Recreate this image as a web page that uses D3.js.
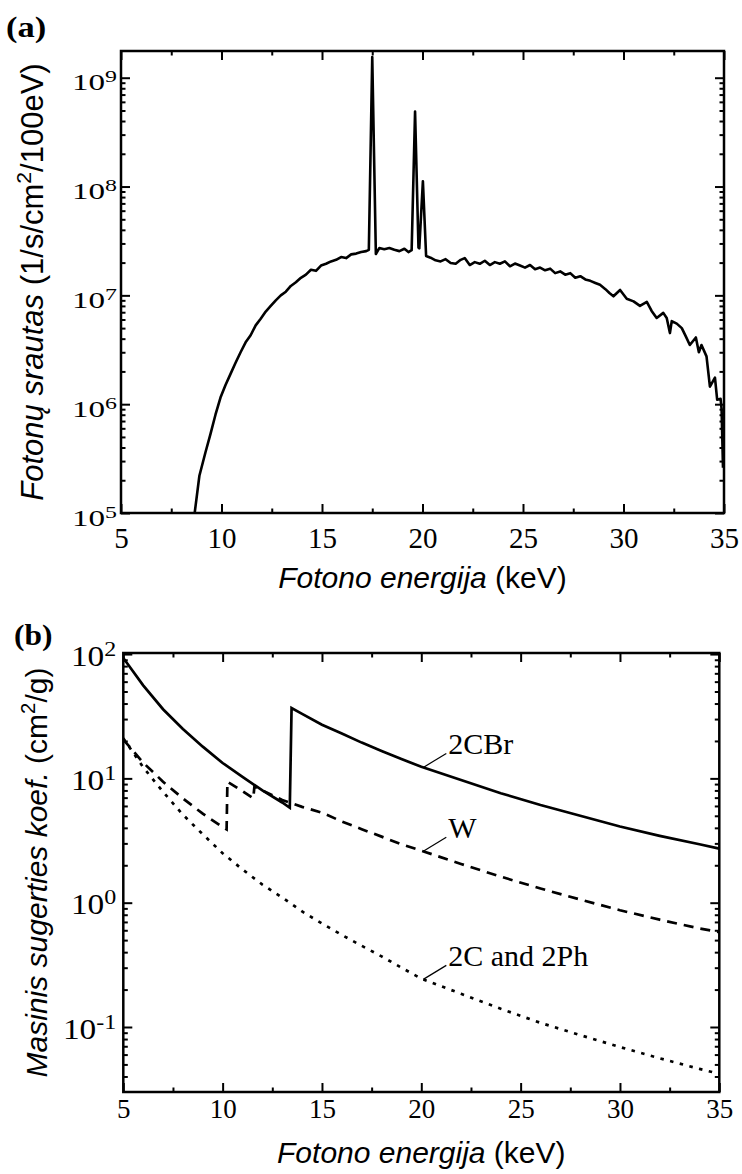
<!DOCTYPE html>
<html>
<head>
<meta charset="utf-8">
<script src="https://cdn.jsdelivr.net/npm/d3@7"></script>
<style>
  body { margin: 0; background: #fff; }
  svg { display: block; }
  .serif { font-family: 'Liberation Serif', 'Times New Roman', serif; }
  .sans { font-family: 'Liberation Sans', Arial, sans-serif; }
</style>
</head>
<body>
<div class="chart"></div>
<script>
// ---- data ----
// (a) photon spectrum: [energy keV, flux 1/s/cm2/100eV]
const spectrum = [
  [8.65, 9.5e4], [8.9, 2.2e5], [9.2, 3.6e5], [9.45, 5.3e5], [9.7, 8.0e5], [9.95, 1.15e6],
  [10.2, 1.5e6], [10.45, 1.9e6], [10.7, 2.4e6], [10.95, 3.0e6], [11.2, 3.7e6], [11.45, 4.3e6],
  [11.7, 5.3e6], [11.95, 6.1e6], [12.2, 7.1e6], [12.45, 8.0e6], [12.7, 9.0e6], [12.95, 1.0e7],
  [13.2, 1.08e7], [13.45, 1.22e7], [13.7, 1.32e7], [13.95, 1.45e7], [14.2, 1.55e7], [14.45, 1.72e7],
  [14.7, 1.68e7], [14.95, 1.88e7], [15.2, 1.95e7], [15.45, 2.05e7], [15.7, 2.12e7], [15.95, 2.25e7],
  [16.2, 2.2e7], [16.45, 2.38e7], [16.7, 2.42e7], [16.95, 2.5e7], [17.2, 2.55e7], [17.33, 2.62e7],
  [17.5, 1.55e9], [17.68, 2.4e7], [17.85, 2.72e7], [18.1, 2.65e7], [18.35, 2.72e7], [18.6, 2.62e7],
  [18.85, 2.55e7], [19.1, 2.68e7], [19.3, 2.5e7], [19.46, 2.6e7], [19.63, 4.9e8], [19.8, 2.75e7],
  [19.84, 2.7e7], [20.02, 1.12e8], [20.18, 2.3e7], [20.4, 2.22e7], [20.65, 2.1e7], [20.9, 2.05e7],
  [21.15, 2.15e7], [21.4, 1.98e7], [21.65, 1.95e7], [21.9, 2.12e7], [22.1, 2.2e7], [22.35, 1.9e7],
  [22.6, 2.02e7], [22.85, 1.95e7], [23.1, 2.08e7], [23.35, 1.9e7], [23.6, 2.02e7], [23.85, 1.95e7],
  [24.1, 2.05e7], [24.35, 1.85e7], [24.6, 1.96e7], [24.85, 1.88e7], [25.1, 1.8e7], [25.35, 1.9e7],
  [25.6, 1.74e7], [25.85, 1.8e7], [26.1, 1.7e7], [26.35, 1.76e7], [26.6, 1.6e7], [26.85, 1.66e7],
  [27.1, 1.55e7], [27.35, 1.6e7], [27.6, 1.45e7], [27.85, 1.5e7], [28.1, 1.4e7], [28.35, 1.36e7],
  [28.6, 1.3e7], [28.83, 1.25e7], [29.1, 1.14e7], [29.3, 1.05e7], [29.5, 9.8e6], [29.83, 1.12e7],
  [30.16, 9.3e6], [30.5, 8.8e6], [30.82, 8.0e6], [31.16, 8.7e6], [31.4, 7.2e6], [31.65, 6.2e6],
  [31.98, 6.9e6], [32.15, 6.2e6], [32.31, 4.5e6], [32.4, 5.8e6], [32.65, 5.5e6], [32.9, 5.0e6],
  [33.1, 4.2e6], [33.3, 3.5e6], [33.6, 4.1e6], [33.75, 3.0e6], [33.88, 3.5e6], [34.13, 2.75e6],
  [34.3, 1.45e6], [34.55, 1.75e6], [34.66, 1.1e6], [34.83, 1.12e6], [34.88, 9.0e5], [34.95, 2.6e5]
];

// (b) mass attenuation coefficients: [energy keV, cm2/g]
const cbr = [
  [5, 93], [6, 56], [7, 36], [8, 25], [9, 18], [10, 13.3], [11, 10.3], [12, 8.0], [13, 6.4],
  [13.38, 5.8], [13.47, 36.8], [14, 33], [15, 27], [16, 23], [17, 19.4], [18, 16.6], [19, 14.3],
  [20, 12.4], [22, 9.7], [24, 7.6], [26, 6.1], [28, 5.0], [30, 4.1], [32, 3.45], [34, 2.95], [35, 2.72]
];
const tungsten = [
  [5, 20.5], [6, 13.4], [7, 9.4], [8, 6.9], [9, 5.2], [10, 4.05], [10.2, 3.88], [10.24, 9.4],
  [11, 7.9], [11.54, 6.9], [11.6, 8.6], [12, 8.0], [13, 6.7], [14, 5.9], [15, 5.3], [16, 4.5],
  [17, 3.9], [18, 3.4], [19, 2.95], [20, 2.62], [22, 2.05], [24, 1.62], [26, 1.3], [28, 1.06],
  [30, 0.87], [32, 0.73], [34, 0.62], [35, 0.58]
];
const carbonPh = [
  [5, 21], [6, 12.3], [7, 7.8], [8, 5.1], [9, 3.55], [10, 2.5], [11, 1.85], [12, 1.4], [13, 1.1],
  [14, 0.85], [15, 0.68], [16, 0.55], [17, 0.45], [18, 0.37], [19, 0.3], [20, 0.245], [22, 0.185],
  [24, 0.14], [26, 0.108], [28, 0.086], [30, 0.069], [32, 0.056], [34, 0.046], [35, 0.042]
];

const xMajor = [5, 10, 15, 20, 25, 30, 35];
const xMinor = [7.5, 12.5, 17.5, 22.5, 27.5, 32.5];
const expA = [5, 6, 7, 8, 9];
const expB = [-1, 0, 1, 2];
const curveLabels = ['2CBr', 'W', '2C and 2Ph'];

// ---- layout ----
const w = 742, h = 1174;
const pa = { left: 121, right: 724, top: 51, bottom: 513 };
const pb = { left: 123.3, right: 719.3, top: 653, bottom: 1092 };

const svg = d3.select('.chart').append('svg').attr('width', w).attr('height', h);

const xA = d3.scaleLinear().domain([5, 35]).range([pa.left, pa.right]);
const yA = d3.scaleLog().domain([1e5, 1.76e9]).range([pa.bottom, pa.top]);
const xB = d3.scaleLinear().domain([5, 35]).range([pb.left, pb.right]);
const yB = d3.scaleLog().domain([0.030, 102]).range([pb.bottom, pb.top]);

function logMinor(scale) {
  const [lo, hi] = scale.domain();
  const out = [];
  for (let e = Math.floor(Math.log10(lo)); e <= Math.ceil(Math.log10(hi)); e++) {
    for (let k = 2; k <= 9; k++) {
      const v = k * Math.pow(10, e);
      if (v > lo && v < hi) out.push(v);
    }
  }
  return out;
}

function drawAxes(p, x, y, exps, o) {
  const g = svg.append('g');
  const majorY = exps.map(e => Math.pow(10, e));
  const minorY = logMinor(y);

  const bottom = g.append('g').attr('transform', `translate(0,${p.bottom})`)
    .call(d3.axisBottom(x).tickValues(xMajor).tickSize(-9).tickPadding(o.xPad).tickFormat(d3.format('d')));
  bottom.selectAll('text').attr('class', 'serif').style('font-size', o.xFont + 'px');
  g.append('g').attr('transform', `translate(0,${p.bottom})`)
    .call(d3.axisBottom(x).tickValues(xMinor).tickSize(-4.5).tickFormat(''));
  g.append('g').attr('transform', `translate(0,${p.top})`)
    .call(d3.axisTop(x).tickValues(xMajor).tickSize(-9).tickFormat(''));
  g.append('g').attr('transform', `translate(0,${p.top})`)
    .call(d3.axisTop(x).tickValues(xMinor).tickSize(-4.5).tickFormat(''));

  g.append('g').attr('transform', `translate(${p.left},0)`)
    .call(d3.axisLeft(y).tickValues(majorY).tickSize(-9).tickFormat(''));
  g.append('g').attr('transform', `translate(${p.left},0)`)
    .call(d3.axisLeft(y).tickValues(minorY).tickSize(-4.5).tickFormat(''));
  g.append('g').attr('transform', `translate(${p.right},0)`)
    .call(d3.axisRight(y).tickValues(majorY).tickSize(-9).tickFormat(''));
  g.append('g').attr('transform', `translate(${p.right},0)`)
    .call(d3.axisRight(y).tickValues(minorY).tickSize(-4.5).tickFormat(''));

  g.selectAll('.domain').remove();
  g.selectAll('.tick line').attr('stroke', '#000').attr('stroke-width', 2);

  // y tick labels 10^n
  exps.forEach(e => {
    const t = g.append('text').attr('class', 'serif')
      .attr('text-anchor', 'end')
      .attr('transform', `translate(${p.left - o.yGap},${y(Math.pow(10, e)) + o.yBase}) scale(${o.ySx},1)`)
      .style('font-size', o.yFont + 'px');
    t.append('tspan').text('10');
    t.append('tspan').attr('dy', -o.supUp).style('font-size', (o.yFont * 0.72) + 'px').text(e);
  });

  g.append('rect')
    .attr('x', p.left).attr('y', p.top)
    .attr('width', p.right - p.left).attr('height', p.bottom - p.top)
    .attr('fill', 'none').attr('stroke', '#000').attr('stroke-width', 2.5);
  return g;
}

function clip(id, p) {
  svg.append('clipPath').attr('id', id).append('rect')
    .attr('x', p.left).attr('y', p.top).attr('width', p.right - p.left).attr('height', p.bottom - p.top);
}
clip('clipA', pa);
clip('clipB', pb);

// ---- panel (a) ----
const lineA = d3.line().x(d => xA(d[0])).y(d => yA(d[1]));
svg.append('path').datum(spectrum)
  .attr('clip-path', 'url(#clipA)')
  .attr('d', lineA)
  .attr('fill', 'none').attr('stroke', '#000').attr('stroke-width', 2.6).attr('stroke-linejoin', 'round');

drawAxes(pa, xA, yA, expA, { xPad: 14, xFont: 29, yFont: 24, ySx: 1.38, yGap: 4, yBase: 12.5, supUp: 8 });

// ---- panel (b) ----
const lineB = d3.line().x(d => xB(d[0])).y(d => yB(d[1]));
const seriesB = [
  { data: cbr, dash: null },
  { data: tungsten, dash: '10,7' },
  { data: carbonPh, dash: '3.5,6.5' }
];
seriesB.forEach(s => {
  svg.append('path').datum(s.data)
    .attr('clip-path', 'url(#clipB)')
    .attr('d', lineB)
    .attr('fill', 'none').attr('stroke', '#000').attr('stroke-width', 2.7)
    .attr('stroke-dasharray', s.dash);
});

drawAxes(pb, xB, yB, expB, { xPad: 7, xFont: 27, yFont: 29, ySx: 1.15, yGap: 7, yBase: 11.5, supUp: 10 });

// curve labels with leader lines at E = 20.1 keV
const interp = (data, e) => {
  const i = d3.bisector(d => d[0]).left(data, e);
  const a = data[i - 1], b = data[i];
  const t = (e - a[0]) / (b[0] - a[0]);
  return Math.exp(Math.log(a[1]) + t * (Math.log(b[1]) - Math.log(a[1])));
};
[cbr, tungsten, carbonPh].forEach((data, i) => {
  const e = 20.1;
  const px = xB(e), py = yB(interp(data, e));
  svg.append('line')
    .attr('x1', px).attr('y1', py).attr('x2', px + 23).attr('y2', py - 14)
    .attr('stroke', '#000').attr('stroke-width', 1.2);
  svg.append('text').attr('class', 'serif')
    .attr('x', px + 25).attr('y', py - 13)
    .style('font-size', '30px')
    .text(curveLabels[i]);
});

// ---- titles ----
function xTitle(cx, base) {
  const t = svg.append('text').attr('class', 'sans')
    .attr('x', cx).attr('y', base).attr('text-anchor', 'middle')
    .style('font-size', '30px');
  t.append('tspan').style('font-style', 'italic').text('Fotono energija');
  t.append('tspan').text(' (keV)');
}
xTitle((pa.left + pa.right) / 2, 588);
xTitle((pb.left + pb.right) / 2, 1163);

function yTitle(bx, cy, size, italic, pre, post) {
  const t = svg.append('text').attr('class', 'sans')
    .attr('transform', `translate(${bx},${cy}) rotate(-90)`)
    .attr('text-anchor', 'middle')
    .style('font-size', size + 'px');
  t.append('tspan').style('font-style', 'italic').text(italic);
  t.append('tspan').text(pre);
  t.append('tspan').attr('dy', -size * 0.4).style('font-size', (size * 0.68) + 'px').text('2');
  t.append('tspan').attr('dy', size * 0.4).text(post);
}
yTitle(43, (pa.top + pa.bottom) / 2, 31, 'Fotonų srautas', ' (1/s/cm', '/100eV)');
yTitle(47, (pb.top + pb.bottom) / 2, 30, 'Masinis sugerties koef.', ' (cm', '/g)');

// panel letters
svg.append('text').attr('class', 'serif')
  .attr('transform', 'translate(6,37) scale(1.15,1)')
  .style('font-size', '30px').style('font-weight', 'bold').text('(a)');
svg.append('text').attr('class', 'serif')
  .attr('transform', 'translate(14,645) scale(1.05,1)')
  .style('font-size', '30px').style('font-weight', 'bold').text('(b)');
</script>
</body>
</html>
